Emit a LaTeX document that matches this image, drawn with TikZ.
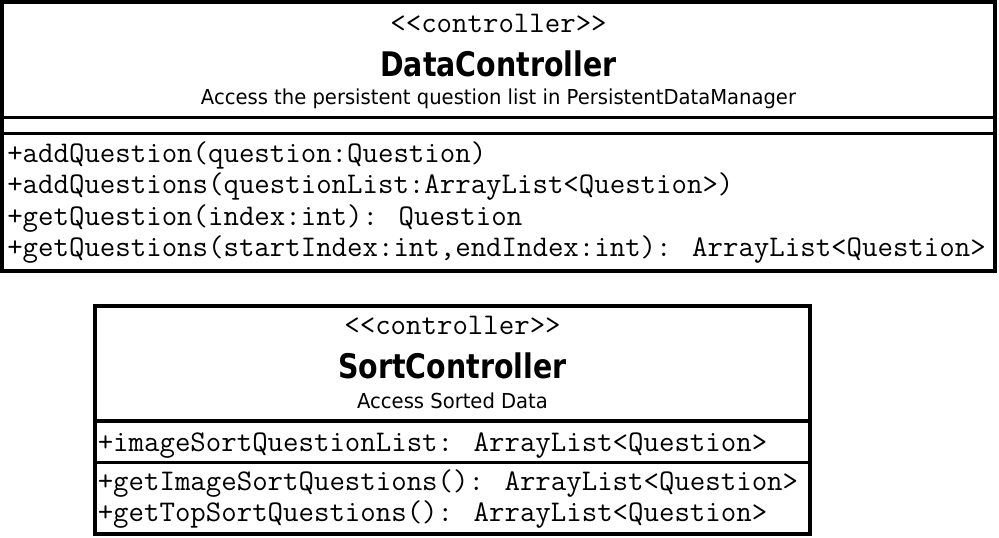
\documentclass[tikz,border=0pt]{standalone}
\usepackage{fontspec}
\newfontfamily\titlefont[FakeStretch=0.84]{DejaVu Sans Bold}
\newfontfamily\subfont[FakeStretch=0.95]{DejaVu Sans}
\newcommand{\lt}{\textless}
\newcommand{\gt}{\textgreater}
\begin{document}
\begin{tikzpicture}[x=0.75pt,y=-0.75pt,
  box/.style={draw=black, line width=2.6pt},
  mono/.style={font=\fontsize{22.5pt}{22.5pt}\selectfont\ttfamily, anchor=base west, inner sep=0pt},
  stereo/.style={font=\fontsize{22.5pt}{22.5pt}\selectfont\ttfamily, anchor=base, inner sep=0pt},
  ctitle/.style={font=\fontsize{25.4pt}{25.4pt}\selectfont\titlefont, anchor=base, inner sep=0pt},
  csub/.style={font=\fontsize{15.45pt}{15.45pt}\selectfont\subfont, anchor=base, inner sep=0pt}]
\useasboundingbox (0,0) rectangle (999,537);
\fill[white] (0,0) rectangle (999,537);
% DataController
\draw[box] (2,2) rectangle (995,271);
\draw[box] (2,117.5) -- (995,117.5);
\draw[box] (2,133.5) -- (995,133.5);
\node[stereo] (dcst) at (498.5,32) {\lt\lt controller\gt\gt};
\node[ctitle] (dcname) at (498.5,76) {DataController};
\node[csub] (dcdesc) at (498.5,104) {Access the persistent question list in PersistentDataManager};
\node[mono] (dcm1) at (7,162) {+addQuestion(question:Question)};
\node[mono] (dcm2) at (7,193.5) {+addQuestions(questionList:ArrayList\lt Question\gt)};
\node[mono] (dcm3) at (7,225) {+getQuestion(index:int): Question};
\node[mono] (dcm4) at (7,256.5) {+getQuestions(startIndex:int,endIndex:int): ArrayList\lt Question\gt};
% SortController
\draw[box] (95,306) rectangle (810,534);
\draw[box] (95,421) -- (810,421);
\draw[box] (95,462.5) -- (810,462.5);
\node[stereo] (scst) at (452.5,334) {\lt\lt controller\gt\gt};
\node[ctitle] (scname) at (452.5,378) {SortController};
\node[csub] (scdesc) at (452.5,408) {Access Sorted Data};
\node[mono] (sca1) at (97.5,451) {+imageSortQuestionList: ArrayList\lt Question\gt};
\node[mono] (scm1) at (97.5,490) {+getImageSortQuestions(): ArrayList\lt Question\gt};
\node[mono] (scm2) at (97.5,521) {+getTopSortQuestions(): ArrayList\lt Question\gt};
\end{tikzpicture}
\end{document}
